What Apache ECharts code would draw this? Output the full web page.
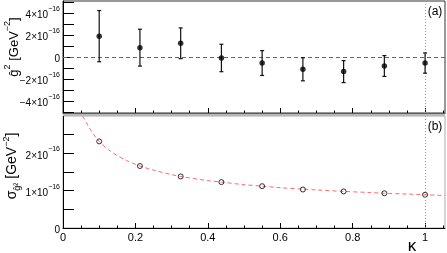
<!DOCTYPE html>
<html><head><meta charset="utf-8">
<script src="https://cdn.jsdelivr.net/npm/echarts@6/dist/echarts.min.js"></script>
<style>html,body{margin:0;padding:0;background:#fff}#c{width:447px;height:253px}</style>
</head><body><div id="c"></div>
<script>
// values in units of 1e-16 GeV^-2
const kappa = [0.1, 0.2125, 0.325, 0.4375, 0.55, 0.6625, 0.775, 0.8875, 1.0];
const g2 = [1.9, 0.85, 1.25, -0.09, -0.55, -1.12, -1.33, -0.82, -0.55];
const g2Err = [2.33, 1.68, 1.4, 1.25, 1.13, 1.05, 1.0, 0.95, 0.92];
const sigma = [2.32, 1.66, 1.38, 1.23, 1.12, 1.03, 0.98, 0.93, 0.89];
const fitK = [0.054, 0.07, 0.08, 0.1, 0.125, 0.15, 0.175, 0.2125, 0.25, 0.3, 0.325, 0.4, 0.4375, 0.5, 0.55, 0.6, 0.6625, 0.7, 0.775, 0.85, 0.8875, 0.95, 1.0, 1.055];
const fitSigma = [3.0, 2.73, 2.57, 2.32, 2.10, 1.94, 1.81, 1.66, 1.55, 1.43, 1.38, 1.27, 1.23, 1.16, 1.12, 1.08, 1.04, 1.02, 0.98, 0.95, 0.93, 0.91, 0.89, 0.87];
const xLabels = [0, 0.2, 0.4, 0.6, 0.8, 1];
const yTicksA = [-5, -4, -3, -2, -1, 0, 1, 2, 3, 4, 5];
const yLabelsA = [-4, -2, 0, 2, 4];
const yTicksB = [0.5, 1, 1.5, 2, 2.5];
const yLabelsB = [0, 1, 2];
const xMinor = [0.05, 0.1, 0.15, 0.25, 0.3, 0.35, 0.45, 0.5, 0.55, 0.65, 0.7, 0.75, 0.85, 0.9, 0.95, 1.05];
const xMajor = [0.2, 0.4, 0.6, 0.8, 1.0];

const FONT = "'Liberation Sans', Arial, sans-serif";
const chart = echarts.init(document.getElementById('c'), null, {renderer: 'canvas'});

function yFmt(v) {
  if (Math.abs(v) < 1e-9) return '{b|0}';
  const n = Math.round(v);
  return '{b|' + (n < 0 ? '\u2212' : '') + Math.abs(n) + '\u00d710}{s|\u221216}';
}
const yRich = {
  b: {fontSize: 10, fontFamily: FONT, color: '#000', lineHeight: 15, verticalAlign: 'bottom'},
  s: {fontSize: 7, fontFamily: FONT, color: '#000', lineHeight: 15, verticalAlign: 'top'}
};

function xAxisPair(gi, showLabels) {
  return [
    {type: 'value', gridIndex: gi, min: 0, max: 1.055, position: 'bottom',
     axisLine: {show: true, onZero: false, lineStyle: {color: '#000', width: 1}},
     axisTick: {show: true, inside: true, length: 2.5, customValues: xMinor, lineStyle: {color: '#000'}},
     axisLabel: {show: showLabels, customValues: xLabels, margin: 4, fontSize: 11, fontFamily: FONT, color: '#000',
       formatter: v => (v === 0 ? '0' : v === 1 ? '1' : v.toFixed(1))},
     splitLine: {show: false}},
    {type: 'value', gridIndex: gi, min: 0, max: 1.055, position: 'bottom',
     axisLine: {show: false, onZero: false},
     axisTick: {show: true, inside: true, length: 5, customValues: xMajor, lineStyle: {color: '#000'}},
     axisLabel: {show: false}, splitLine: {show: false}}
  ];
}

const errRender = function (params, api) {
  const x = api.value(0), y = api.value(1), e = api.value(2);
  const top = api.coord([x, y + e]);
  const bot = api.coord([x, y - e]);
  const st = {stroke: '#111', lineWidth: 1.2};
  return {type: 'group', children: [
    {type: 'line', shape: {x1: top[0], y1: top[1], x2: bot[0], y2: bot[1]}, style: st},
    {type: 'line', shape: {x1: top[0] - 2, y1: top[1], x2: top[0] + 2, y2: top[1]}, style: st},
    {type: 'line', shape: {x1: bot[0] - 2, y1: bot[1], x2: bot[0] + 2, y2: bot[1]}, style: st}
  ]};
};

const option = {
  animation: false,
  backgroundColor: '#fff',
  grid: [
    {left: 63, right: 2, top: 1, height: 112, show: true, borderColor: '#333', borderWidth: 1, containLabel: false},
    {left: 63, right: 2, top: 116, height: 112, show: true, borderColor: '#aaa', borderWidth: 1, containLabel: false}
  ],
  xAxis: [...xAxisPair(0, false), ...xAxisPair(1, true)],
  yAxis: [
    {type: 'value', gridIndex: 0, min: -5.1, max: 5.1,
     axisLine: {show: true, onZero: false, lineStyle: {color: '#000'}},
     axisTick: {show: true, inside: true, length: 11, customValues: yTicksA, lineStyle: {color: '#000'}},
     axisLabel: {customValues: yLabelsA, margin: 3, formatter: yFmt, rich: yRich},
     splitLine: {show: false}},
    {type: 'value', gridIndex: 1, min: 0, max: 3,
     axisLine: {show: true, onZero: false, lineStyle: {color: '#000'}},
     axisTick: {show: true, inside: true, length: 11, customValues: yTicksB, lineStyle: {color: '#000'}},
     axisLabel: {customValues: yLabelsB, margin: 3, formatter: yFmt, rich: yRich},
     splitLine: {show: false}}
  ],
  series: [
    {type: 'custom', xAxisIndex: 0, yAxisIndex: 0, renderItem: errRender,
     data: kappa.map((k, i) => [k, g2[i], g2Err[i]]), z: 3,
     markLine: {silent: true, symbol: 'none', label: {show: false}, z: 1,
       data: [
         {yAxis: 0, lineStyle: {color: '#666', type: [4, 3], width: 1}},
         {xAxis: 1, lineStyle: {color: '#999', type: [1, 2], width: 1}}
       ]}},
    {type: 'scatter', xAxisIndex: 0, yAxisIndex: 0, symbol: 'circle', symbolSize: 5.5,
     itemStyle: {color: '#000'}, data: kappa.map((k, i) => [k, g2[i]]), z: 4},
    {type: 'line', xAxisIndex: 2, yAxisIndex: 1, smooth: 0.3, showSymbol: false,
     lineStyle: {color: '#ff6a6a', width: 1, type: [4, 3]},
     data: fitK.map((k, i) => [k, fitSigma[i]]), z: 2,
     markLine: {silent: true, symbol: 'none', label: {show: false},
       data: [{xAxis: 1, lineStyle: {color: '#999', type: [1, 2], width: 1}}]}},
    {type: 'scatter', xAxisIndex: 2, yAxisIndex: 1, symbol: 'circle', symbolSize: 5,
     itemStyle: {color: 'rgba(0,0,0,0)', borderColor: '#000', borderWidth: 1},
     data: kappa.map((k, i) => [k, sigma[i]]), z: 4}
  ],
  graphic: [
    {type: 'rect', shape: {x: 63, y: 113.5, width: 382, height: 2.5}, style: {fill: '#b8b8b8'}, z: 10},
    {type: 'text', x: 12, y: 47, rotation: Math.PI / 2,
     style: {text: '{a|ĝ}{sup|2}{a| [GeV}{sup|−2}{a|]}', align: 'center', verticalAlign: 'middle',
       rich: {a: {fontSize: 13, fontFamily: FONT, fill: '#000', verticalAlign: 'bottom', lineHeight: 18},
              sup: {fontSize: 9, fontFamily: FONT, fill: '#000', verticalAlign: 'top', lineHeight: 18}}}},
    {type: 'text', x: 12, y: 166, rotation: Math.PI / 2,
     style: {text: '{a|σ}{sub|ĝ²}{a| [GeV}{sup|−2}{a|]}', align: 'center', verticalAlign: 'middle',
       rich: {a: {fontSize: 14, fontFamily: FONT, fill: '#000', verticalAlign: 'middle', lineHeight: 20},
              sub: {fontSize: 9, fontFamily: FONT, fill: '#000', verticalAlign: 'bottom', lineHeight: 20},
              sup: {fontSize: 9, fontFamily: FONT, fill: '#000', verticalAlign: 'top', lineHeight: 20}}}},
    {type: 'text', x: 435, y: 12, style: {text: '(a)', font: '12px ' + FONT, fill: '#000', align: 'center', verticalAlign: 'middle'}},
    {type: 'text', x: 435, y: 127, style: {text: '(b)', font: '12px ' + FONT, fill: '#000', align: 'center', verticalAlign: 'middle'}},
    {type: 'text', x: 412, y: 246, style: {text: 'κ', font: '17px ' + FONT, fill: '#000', align: 'center', verticalAlign: 'middle'}}
  ]
};
chart.setOption(option);
</script></body></html>
